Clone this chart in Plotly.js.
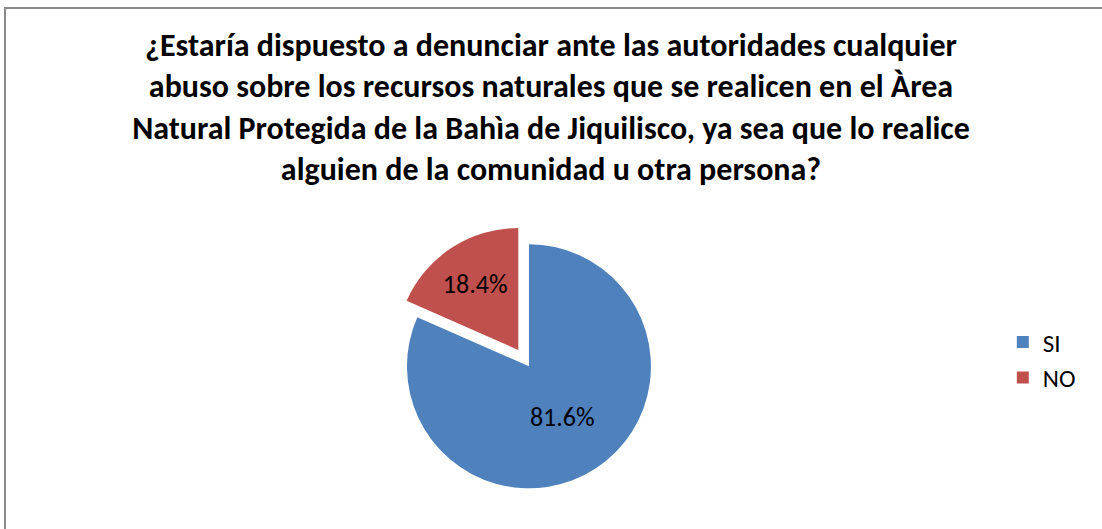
<!DOCTYPE html>
<html>
<head>
<meta charset="utf-8">
<script src="https://cdn.plot.ly/plotly-3.0.1.min.js"></script>
<style>
  html, body { margin: 0; padding: 0; background: #fff; overflow: hidden; }
  #wrap { position: relative; width: 1102px; height: 529px; }
  #chart { position: absolute; left: 0; top: 0; width: 1102px; height: 529px; }
  #frame { position: absolute; left: 4px; top: 7px; width: 1200px; height: 600px;
           border-left: 2px solid #8a8a8a; border-top: 2px solid #8a8a8a; pointer-events: none; }
</style>
</head>
<body>
<div id="wrap">
  <div id="chart"></div>
  <div id="frame"></div>
</div>
<script>
const categories = ["SI", "NO"];
const values = [81.6, 18.4];
const colors = ["#4F81BD", "#C0504D"];
const titleLines = [
  "¿Estaría dispuesto a denunciar ante las autoridades cualquier",
  "abuso sobre los recursos naturales que se realicen en el Àrea",
  "Natural Protegida de la Bahìa de Jiquilisco, ya sea que lo realice",
  "alguien de la comunidad u otra persona?"
];

const fontFam = "Calibri, Carlito, 'Liberation Sans Narrow', 'DejaVu Sans Condensed', sans-serif";

const trace = {
  type: "pie",
  labels: categories,
  values: values,
  sort: false,
  direction: "clockwise",
  rotation: 0,
  pull: [0, 0.16],
  marker: { colors: colors, line: { width: 0 } },
  texttemplate: "%{percent:.1%}",
  textposition: "inside",
  insidetextfont: { color: "#000000", size: 26, family: fontFam },
  hoverinfo: "label+percent",
  domain: { x: [0.34, 0.62], y: [0.04, 0.575] }
};

const layout = {
  width: 1102,
  height: 529,
  margin: { l: 0, r: 0, t: 0, b: 0 },
  paper_bgcolor: "#ffffff",
  title: {
    text: "<b>" + titleLines.join("<br>") + "</b>",
    font: { family: fontFam, size: 32, color: "#000000" },
    x: 0.5, xanchor: "center",
    y: 0.895, yanchor: "top"
  },
  showlegend: true,
  legend: {
    x: 0.91, xanchor: "left",
    y: 0.32, yanchor: "middle",
    font: { family: fontFam, size: 25, color: "#000000" },
    itemwidth: 30
  }
};

Plotly.newPlot("chart", [trace], layout, { displayModeBar: false, staticPlot: true });
</script>
</body>
</html>
